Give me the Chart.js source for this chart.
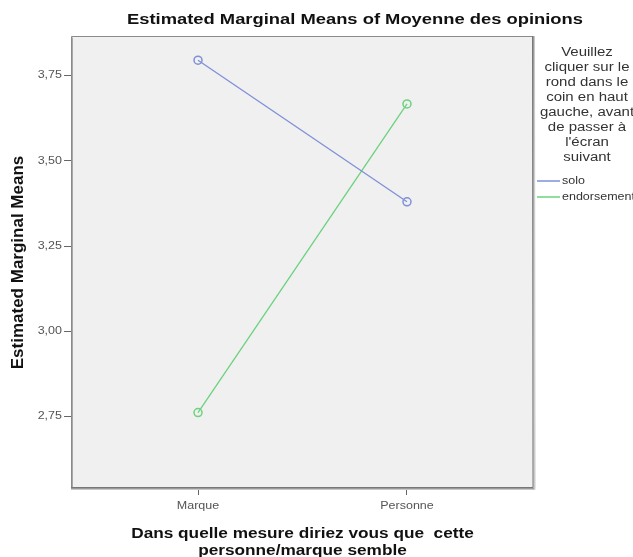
<!DOCTYPE html>
<html>
<head>
<meta charset="utf-8">
<script src="https://cdn.jsdelivr.net/npm/chart.js@4.4.1/dist/chart.umd.min.js"></script>
<style>
  html, body { margin: 0; padding: 0; background: #ffffff; }
  #c { display: block; }
</style>
</head>
<body>
<canvas id="c" width="633" height="557"></canvas>
<script>
const categories = ['Marque', 'Personne'];
const seriesNames = ['solo', 'endorsement'];
const soloValues = [3.795, 3.38];
const endorsementValues = [2.762, 3.667];
const yTickValues = [2.75, 3.00, 3.25, 3.50, 3.75];
const yTickLabels = ['2,75', '3,00', '3,25', '3,50', '3,75'];
const chartTitle = 'Estimated Marginal Means of Moyenne des opinions';
const xAxisTitle = ['Dans quelle mesure diriez vous que  cette', 'personne/marque semble'];
const yAxisTitle = 'Estimated Marginal Means';
const legendTitleLines = ['Veuillez', 'cliquer sur le', 'rond dans le', 'coin en haut', 'gauche, avant', 'de passer à', "l'écran", 'suivant'];

const FONT = "'Liberation Sans', Arial, sans-serif";
const seriesColors = ['#7f90d8', '#6cd27e'];
const SX = 1.25; // horizontal stretch of the reference's text

const toPoints = vals => vals.map((v, i) => ({ x: i, y: v }));

function drawText(ctx, text, x, y, font, color, align, sx) {
  ctx.save();
  ctx.font = font;
  ctx.fillStyle = color;
  ctx.textAlign = align;
  ctx.textBaseline = 'middle';
  ctx.translate(x, y);
  ctx.scale(sx, 1);
  ctx.fillText(text, 0, 0);
  ctx.restore();
}

const boxPlugin = {
  id: 'box',
  beforeDraw(chart) {
    const { ctx, chartArea: a } = chart;
    ctx.save();
    ctx.fillStyle = '#f0f0f0';
    ctx.fillRect(a.left, a.top, a.right - a.left, a.bottom - a.top);
    ctx.restore();
  },
  afterDraw(chart) {
    const { ctx, chartArea: a } = chart;
    ctx.save();
    ctx.strokeStyle = '#8a8a8a';
    ctx.lineWidth = 1;
    ctx.beginPath();
    ctx.moveTo(a.left + 0.5, a.bottom);
    ctx.lineTo(a.left + 0.5, a.top + 0.5);
    ctx.lineTo(a.right, a.top + 0.5);
    ctx.stroke();
    ctx.strokeStyle = '#a8a8a8';
    ctx.beginPath();
    ctx.moveTo(a.left + 1.5, a.bottom);
    ctx.lineTo(a.left + 1.5, a.top + 1.5);
    ctx.stroke();
    const shades = ['#777777', '#999999', '#c8c8c8'];
    shades.forEach((c, i) => {
      ctx.strokeStyle = c;
      ctx.beginPath();
      ctx.moveTo(a.left, a.bottom - 1.5 + i);
      ctx.lineTo(a.right - 1 + i, a.bottom - 1.5 + i);
      ctx.lineTo(a.right - 1.5 + i, a.top);
      ctx.stroke();
    });
    ctx.restore();

    const xs = chart.scales.x, ys = chart.scales.y;
    categories.forEach((c, i) => {
      drawText(ctx, c, xs.getPixelForValue(i), 506, '10px ' + FONT, '#555555', 'center', SX);
    });
    yTickValues.forEach((v, i) => {
      drawText(ctx, yTickLabels[i], 62, ys.getPixelForValue(v), '10px ' + FONT, '#555555', 'right', SX);
    });

    drawText(ctx, chartTitle, 355, 20, 'bold 14.7px ' + FONT, '#111111', 'center', SX);

    const cx = (a.left + a.right) / 2;
    xAxisTitle.forEach((t, i) => {
      drawText(ctx, t, cx, 534 + i * 17, 'bold 14px ' + FONT, '#111111', 'center', 1.23);
    });

    legendTitleLines.forEach((t, i) => {
      drawText(ctx, t, 587, 53 + i * 15, '12px ' + FONT, '#333333', 'center', SX);
    });
    const ly = [181, 197];
    seriesNames.forEach((name, i) => {
      ctx.save();
      ctx.strokeStyle = seriesColors[i];
      ctx.lineWidth = 1.5;
      ctx.beginPath();
      ctx.moveTo(537, ly[i]);
      ctx.lineTo(560, ly[i]);
      ctx.stroke();
      ctx.restore();
      drawText(ctx, name, 562, ly[i], '10px ' + FONT, '#333333', 'left', SX);
    });
  }
};

new Chart(document.getElementById('c'), {
  type: 'line',
  data: {
    datasets: [
      {
        label: seriesNames[0],
        data: toPoints(soloValues),
        borderColor: seriesColors[0],
        backgroundColor: 'rgba(0,0,0,0)',
        borderWidth: 1.3,
        pointRadius: 4,
        pointBorderWidth: 1.5,
        pointBackgroundColor: 'rgba(0,0,0,0)',
        pointBorderColor: seriesColors[0]
      },
      {
        label: seriesNames[1],
        data: toPoints(endorsementValues),
        borderColor: seriesColors[1],
        backgroundColor: 'rgba(0,0,0,0)',
        borderWidth: 1.3,
        pointRadius: 4,
        pointBorderWidth: 1.5,
        pointBackgroundColor: 'rgba(0,0,0,0)',
        pointBorderColor: seriesColors[1]
      }
    ]
  },
  options: {
    responsive: false,
    animation: false,
    devicePixelRatio: 1,
    layout: { padding: { top: 36, right: 99, left: 0, bottom: 0 } },
    plugins: {
      legend: { display: false },
      title: { display: false },
      tooltip: { enabled: false }
    },
    scales: {
      x: {
        type: 'linear',
        min: -0.6077,
        max: 1.6077,
        afterBuildTicks: s => { s.ticks = categories.map((c, i) => ({ value: i })); },
        afterFit: s => { s.height = 68; },
        ticks: {
          callback: v => categories[v],
          font: { size: 10, family: FONT },
          color: 'rgba(0,0,0,0)',
          padding: 3,
          maxRotation: 0
        },
        grid: { drawOnChartArea: false, drawTicks: true, tickLength: 6, color: '#666666' },
        border: { display: false },
        title: { display: false }
      },
      y: {
        type: 'linear',
        min: 2.538,
        max: 3.866,
        afterBuildTicks: s => { s.ticks = yTickValues.map(v => ({ value: v })); },
        afterFit: s => { s.width = 71; },
        ticks: {
          callback: v => yTickLabels[yTickValues.indexOf(v)],
          font: { size: 10, family: FONT },
          color: 'rgba(0,0,0,0)',
          padding: 1
        },
        grid: { drawOnChartArea: false, drawTicks: true, tickLength: 7, color: '#666666' },
        border: { display: false },
        title: {
          display: true,
          text: yAxisTitle,
          font: { size: 17, weight: 'bold', family: FONT },
          color: '#111111',
          padding: { top: 8, bottom: 0 }
        }
      }
    }
  },
  plugins: [boxPlugin]
});
</script>
</body>
</html>
